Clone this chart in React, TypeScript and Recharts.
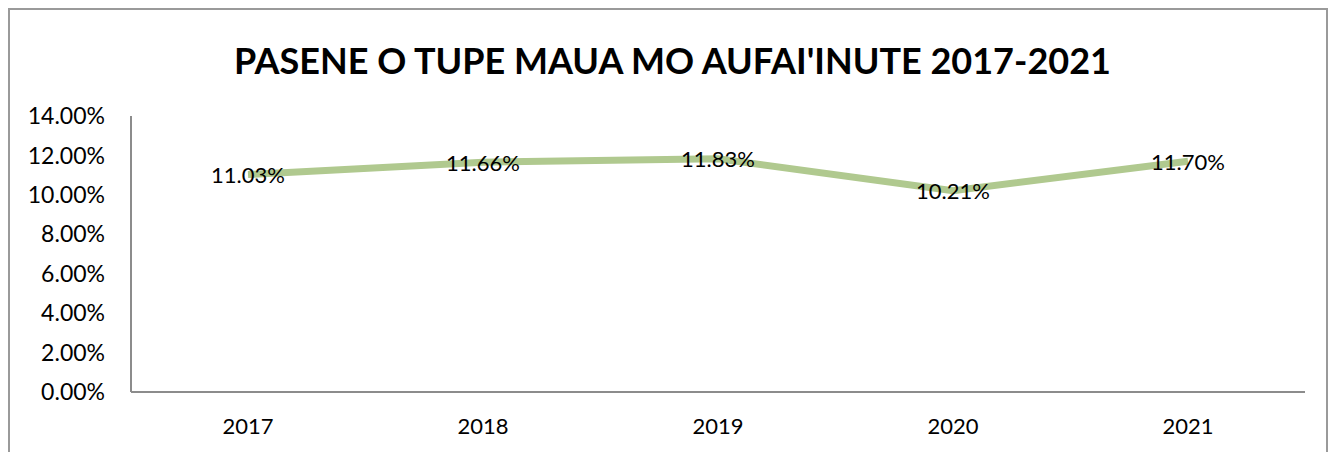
import { LineChart, Line, XAxis, YAxis, LabelList } from 'recharts';

const YEARS = ['2017', '2018', '2019', '2020', '2021'];
const RATES = [0.1103, 0.1166, 0.1183, 0.1021, 0.117];
const Y_TICKS = [0, 0.02, 0.04, 0.06, 0.08, 0.1, 0.12, 0.14];

const TITLE = "PASENE O TUPE MAUA MO AUFAI'INUTE 2017-2021";
const FONT = 'Lato, "Open Sans", sans-serif';
const AXIS_GRAY = '#8c8c8c';
const LINE_GREEN = '#b0c98f';

const data = YEARS.map((year, i) => ({ year, rate: RATES[i] }));

const pct = (v: number) => `${(v * 100).toFixed(2)}%`;

// labels sit right on top of the point, centred both ways
const PointLabel = (props: any) => {
    const { x, y, value } = props;
    return (
        <text x={x} y={y} textAnchor="middle" dominantBaseline="central" fontSize={22} fontFamily={FONT} fill="#000">
            {pct(value)}
        </text>
    );
};

export default function App() {
    return (
        <div style={{ position: 'absolute', left: 0, top: 0, width: 1335, height: 452, overflow: 'hidden', background: '#fff' }}>
            <div style={{ position: 'absolute', left: 8, top: 8, width: 1320, height: 480, border: '2px solid #9a9a9a', boxSizing: 'border-box' }} />
            <div style={{ position: 'absolute', left: 0, top: 36, width: 1345, textAlign: 'center', fontFamily: FONT, fontWeight: 700, fontSize: 36, lineHeight: '48px', color: '#000' }}>
                {TITLE}
            </div>
            <div style={{ position: 'absolute', left: 0, top: 0 }}>
                <LineChart width={1335} height={452} data={data} margin={{ top: 116, right: 30, bottom: 0, left: 0 }}>
                    <XAxis
                        dataKey="year"
                        height={60}
                        padding={{ left: 117, right: 117 }}
                        axisLine={{ stroke: AXIS_GRAY, strokeWidth: 2 }}
                        tickLine={false}
                        tickSize={0}
                        tickMargin={26}
                        tick={{ fontSize: 22, fontFamily: FONT, fill: '#000' }}
                    />
                    <YAxis
                        width={131}
                        domain={[0, 0.14]}
                        ticks={Y_TICKS}
                        tickFormatter={pct}
                        axisLine={{ stroke: AXIS_GRAY, strokeWidth: 2 }}
                        tickLine={false}
                        tickSize={0}
                        tickMargin={26}
                        tick={{ fontSize: 23, fontFamily: FONT, fill: '#000' }}
                    />
                    <Line
                        type="linear"
                        dataKey="rate"
                        stroke={LINE_GREEN}
                        strokeWidth={7}
                        dot={false}
                        activeDot={false}
                        isAnimationActive={false}
                    >
                        <LabelList dataKey="rate" content={<PointLabel />} />
                    </Line>
                </LineChart>
            </div>
        </div>
    );
}
